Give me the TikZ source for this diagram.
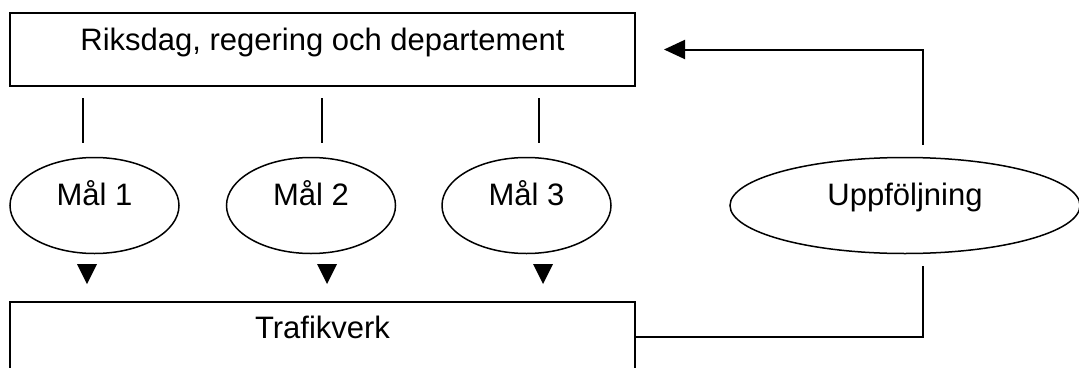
\documentclass[tikz,border=0pt]{standalone}
\usepackage{fontspec}
\setmainfont{Liberation Sans}
\usetikzlibrary{shapes.geometric, arrows.meta}

\tikzset{
	boks/.style={draw, rectangle, line width=2pt, minimum width=625pt, inner ysep=12pt},
	mal/.style={draw, ellipse, line width=1.5pt, inner sep=0pt, minimum width=169pt, minimum height=96pt, text height=22pt, text depth=22pt},
	link/.style={line width=2pt}
}
\newcommand{\neduttip}[1]{\fill (#1-10,264) -- (#1+10,264) -- (#1,284) -- cycle;}

\begin{document}
\begin{tikzpicture}[x=1pt, y=-1pt, font=\fontsize{31}{37}\selectfont]
					\useasboundingbox (0,0) rectangle (1079,367);
					
					\node[boks, text height=25pt, text depth=24pt] (riksdag) at (322.5,49.5) {Riksdag, regering och departement};
					\node[boks, text height=24pt, text depth=22pt] (trafik) at (322.5,337) {Trafikverk};
					
					\node[mal] (mal1) at (94.5,205.5) {Mål 1};
					\node[mal] (mal2) at (311,205.5) {Mål 2};
					\node[mal] (mal3) at (526.5,205.5) {Mål 3};
					\node[mal, minimum width=350pt] (uppf) at (905,205.5) {Uppföljning};
					
					\draw[link, shorten <=11pt, shorten >=14pt] (riksdag.south -| 83,0) -- (mal1.north -| 83,0);
					\draw[link, shorten <=11pt, shorten >=14pt] (riksdag.south -| 322,0) -- (mal2.north -| 322,0);
					\draw[link, shorten <=11pt, shorten >=14pt] (riksdag.south -| 539,0) -- (mal3.north -| 539,0);
					
					\neduttip{87}
					\neduttip{327}
					\neduttip{543}
					
					\draw[link] (trafik.east) -| ([xshift=18pt, yshift=-12pt]uppf.south);
					\draw[link, -{Triangle[width=19pt, length=21pt]}] ([xshift=18pt, yshift=12pt]uppf.north) |- ([xshift=28pt]riksdag.east);
					
				\end{tikzpicture}
\end{document}
